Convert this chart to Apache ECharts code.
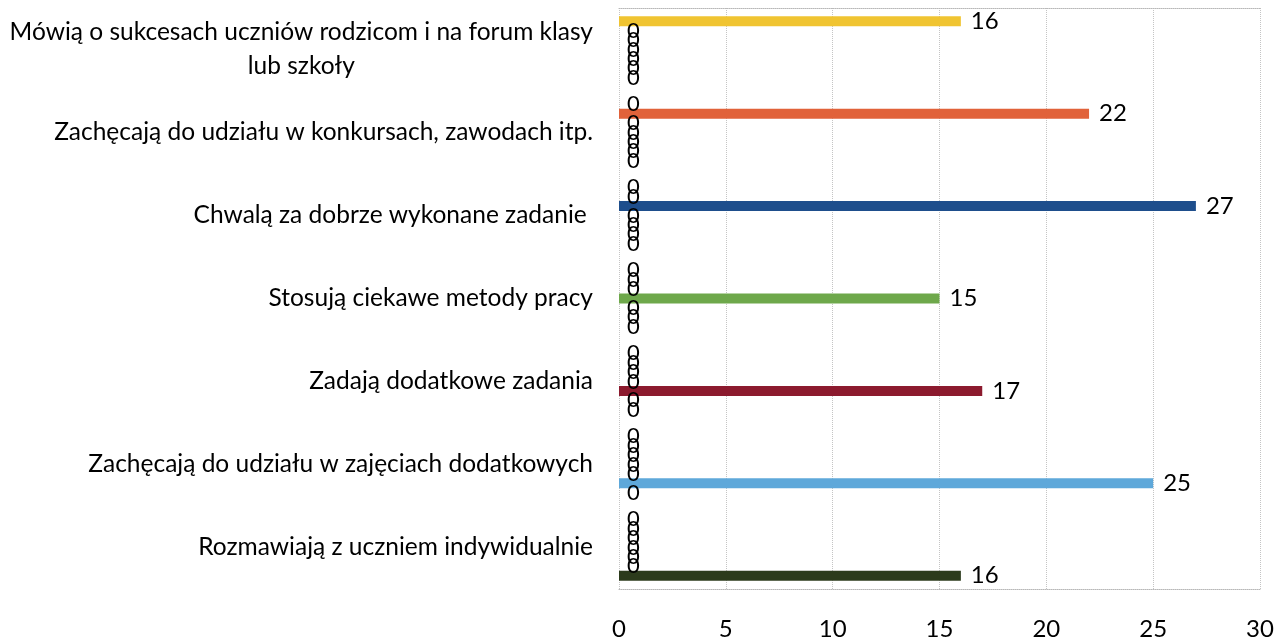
<!DOCTYPE html>
<html>
<head>
<meta charset="utf-8">
<script src="https://cdn.jsdelivr.net/npm/echarts@6/dist/echarts.min.js"></script>
<style>
html,body{margin:0;padding:0;background:#fff;}
#chart{width:1284px;height:641px;}
</style>
</head>
<body>
<div id="chart"></div>
<script>
// Categories listed bottom-to-top (ECharts category y-axis order)
const categories = [
  "Rozmawiają z uczniem indywidualnie",
  "Zachęcają do udziału w zajęciach dodatkowych",
  "Zadają dodatkowe zadania",
  "Stosują ciekawe metody pracy",
  "Chwalą za dobrze wykonane zadanie ",
  "Zachęcają do udziału w konkursach, zawodach itp.",
  "Mówią o sukcesach uczniów rodzicom i na forum klasy\nlub szkoły"
];
// One series per category (as in the source spreadsheet), zeros elsewhere
const seriesMowia      = [0, 0, 0, 0, 0, 0, 16];
const seriesKonkursy   = [0, 0, 0, 0, 0, 22, 0];
const seriesChwala     = [0, 0, 0, 0, 27, 0, 0];
const seriesStosuja    = [0, 0, 0, 15, 0, 0, 0];
const seriesZadaja     = [0, 0, 17, 0, 0, 0, 0];
const seriesZajecia    = [0, 25, 0, 0, 0, 0, 0];
const seriesRozmawiaja = [16, 0, 0, 0, 0, 0, 0];
const xTicks = [0, 5, 10, 15, 20, 25, 30];

// series order: first series is drawn at the top of each group
const seriesList = [seriesMowia, seriesKonkursy, seriesChwala, seriesStosuja, seriesZadaja, seriesZajecia, seriesRozmawiaja];
const colors = ['#f0c431', '#e1623a', '#1e4e8c', '#6ea84b', '#8c1a2e', '#5ea8da', '#2c3b1c'];

const FONT = 'Lato';
const LABEL_SIZE = 24.5;

const chart = echarts.init(document.getElementById('chart'), null, {renderer: 'canvas'});

const series = seriesList.map((arr, i) => ({
  type: 'bar',
  name: 's' + i,
  xAxisIndex: 0,
  barWidth: 10,
  barGap: '-6%',
  itemStyle: {color: colors[i]},
  label: {
    show: true, position: 'right', distance: 10,
    fontFamily: FONT, fontSize: 24, color: '#000'
  },
  data: arr.map(v => v === 0
    ? {value: v, label: {distance: 8, fontSize: 22}}
    : {value: v}),
  z: 2
}));

const option = {
  animation: false,
  backgroundColor: '#fff',
  grid: {left: 619, right: 24, top: 8, bottom: 48, containLabel: false},
  xAxis: [{
    type: 'value', min: 0, max: 30, interval: 5,
    position: 'bottom',
    axisLine: {show: true, lineStyle: {color: '#b8b8b8', type: 'dotted', width: 1}},
    axisTick: {show: false},
    splitLine: {show: true, lineStyle: {color: '#c4c4c4', type: 'dotted', width: 1}},
    axisLabel: {
      fontFamily: FONT, fontSize: 24, color: '#000', margin: 28,
      formatter: v => xTicks.includes(v) ? String(v) : ''
    }
  }, {
    type: 'value', min: 0, max: 30, interval: 5,
    position: 'top',
    axisLine: {show: true, lineStyle: {color: '#b8b8b8', type: 'dotted', width: 1}},
    axisTick: {show: false}, axisLabel: {show: false}, splitLine: {show: false}
  }],
  yAxis: {
    type: 'category',
    data: categories,
    axisLine: {show: false},
    axisTick: {show: false},
    splitLine: {show: false},
    axisLabel: {
      fontFamily: FONT, fontSize: LABEL_SIZE, color: '#000', margin: 26,
      lineHeight: 34,
      formatter: function (val) {
        if (val.indexOf('\n') < 0) return val;
        const lines = val.split('\n');
        return '{a|' + lines[0] + '}\n' + lines.slice(1).map(l => '{w|' + l + '}').join('\n');
      },
      rich: {
        a: {fontFamily: FONT, fontSize: LABEL_SIZE, color: '#000', lineHeight: 34},
        w: {fontFamily: FONT, fontSize: LABEL_SIZE, color: '#000', lineHeight: 34, align: 'center', width: 583}
      }
    }
  },
  series: series
};
chart.setOption(option);
</script>
</body>
</html>
